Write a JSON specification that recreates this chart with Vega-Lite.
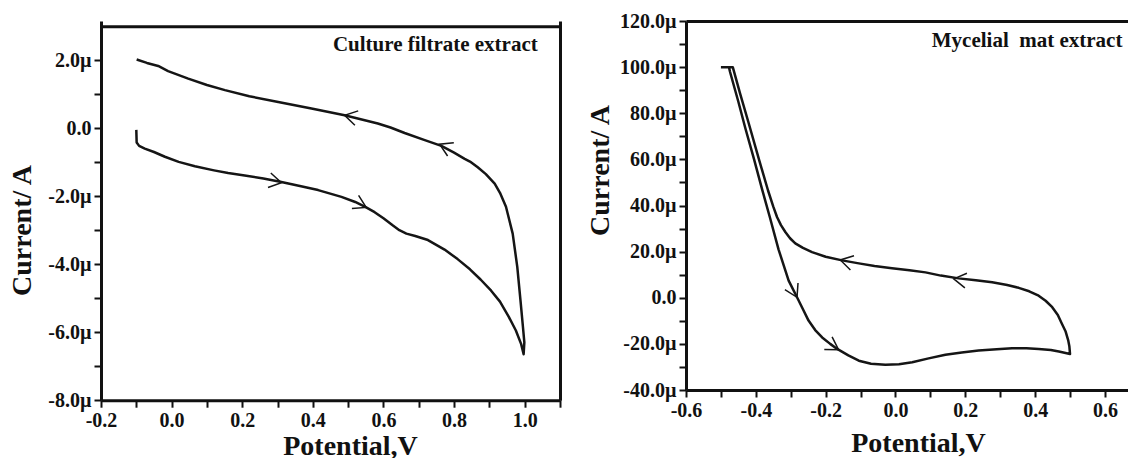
{
  "$schema": "https://vega.github.io/schema/vega-lite/v6.json",
  "padding": {"left": 8, "top": 11, "right": 0, "bottom": 0},
  "spacing": 25,
  "config": {
    "font": "Liberation Serif",
    "view": {"stroke": null},
    "axis": {
      "grid": false,
      "domainColor": "#111111",
      "domainWidth": 3,
      "tickColor": "#111111",
      "tickWidth": 2,
      "tickSize": 7,
      "labelFont": "Liberation Serif",
      "labelFontWeight": "bold",
      "labelFontSize": 20,
      "labelColor": "#111111",
      "labelPadding": 3,
      "titleFont": "Liberation Serif",
      "titleFontWeight": "bold",
      "titleFontSize": 28,
      "titleColor": "#111111",
      "labelFlush": false,
      "labelOverlap": false
    }
  },
  "datasets": {
    "cf": [
      {"i": 1, "V": -0.1, "I": -0.05},
      {"i": 2, "V": -0.099, "I": -0.42},
      {"i": 3, "V": -0.092, "I": -0.52},
      {"i": 4, "V": -0.076, "I": -0.6},
      {"i": 5, "V": -0.05, "I": -0.7},
      {"i": 6, "V": -0.019, "I": -0.84},
      {"i": 7, "V": 0.02, "I": -0.99},
      {"i": 8, "V": 0.066, "I": -1.12},
      {"i": 9, "V": 0.12, "I": -1.24},
      {"i": 10, "V": 0.16, "I": -1.32},
      {"i": 11, "V": 0.207, "I": -1.39},
      {"i": 12, "V": 0.26, "I": -1.48},
      {"i": 13, "V": 0.311, "I": -1.58},
      {"i": 14, "V": 0.36, "I": -1.69},
      {"i": 15, "V": 0.415, "I": -1.82},
      {"i": 16, "V": 0.481, "I": -2.02},
      {"i": 17, "V": 0.52, "I": -2.17},
      {"i": 18, "V": 0.551, "I": -2.33},
      {"i": 19, "V": 0.575, "I": -2.47},
      {"i": 20, "V": 0.6, "I": -2.65},
      {"i": 21, "V": 0.625, "I": -2.85},
      {"i": 22, "V": 0.645, "I": -3.0},
      {"i": 23, "V": 0.665, "I": -3.1},
      {"i": 24, "V": 0.69, "I": -3.17},
      {"i": 25, "V": 0.726, "I": -3.29},
      {"i": 26, "V": 0.773, "I": -3.57},
      {"i": 27, "V": 0.81, "I": -3.85},
      {"i": 28, "V": 0.845, "I": -4.15},
      {"i": 29, "V": 0.875, "I": -4.45},
      {"i": 30, "V": 0.905, "I": -4.78},
      {"i": 31, "V": 0.93, "I": -5.1},
      {"i": 32, "V": 0.955, "I": -5.55},
      {"i": 33, "V": 0.975, "I": -5.95},
      {"i": 34, "V": 0.99, "I": -6.35},
      {"i": 35, "V": 0.997, "I": -6.65},
      {"i": 36, "V": 0.999, "I": -6.3},
      {"i": 37, "V": 0.995, "I": -5.84},
      {"i": 38, "V": 0.988, "I": -5.06},
      {"i": 39, "V": 0.979, "I": -4.08},
      {"i": 40, "V": 0.966, "I": -3.1},
      {"i": 41, "V": 0.947, "I": -2.31},
      {"i": 42, "V": 0.93, "I": -1.9},
      {"i": 43, "V": 0.915, "I": -1.63},
      {"i": 44, "V": 0.89, "I": -1.35},
      {"i": 45, "V": 0.867, "I": -1.15},
      {"i": 46, "V": 0.845, "I": -0.98},
      {"i": 47, "V": 0.83, "I": -0.9},
      {"i": 48, "V": 0.8, "I": -0.72},
      {"i": 49, "V": 0.764, "I": -0.52},
      {"i": 50, "V": 0.717, "I": -0.35},
      {"i": 51, "V": 0.66, "I": -0.14},
      {"i": 52, "V": 0.62, "I": 0.02},
      {"i": 53, "V": 0.584, "I": 0.14},
      {"i": 54, "V": 0.49, "I": 0.38},
      {"i": 55, "V": 0.396, "I": 0.58},
      {"i": 56, "V": 0.302, "I": 0.77},
      {"i": 57, "V": 0.22, "I": 0.94},
      {"i": 58, "V": 0.151, "I": 1.12},
      {"i": 59, "V": 0.1, "I": 1.27},
      {"i": 60, "V": 0.047, "I": 1.46},
      {"i": 61, "V": -0.01, "I": 1.68},
      {"i": 62, "V": -0.038, "I": 1.83},
      {"i": 63, "V": -0.07, "I": 1.92},
      {"i": 64, "V": -0.099, "I": 2.02}
    ],
    "cfArrows": [
      {"V": 0.49, "I": 0.38, "ang": 13},
      {"V": 0.759, "I": -0.47, "ang": 25},
      {"V": 0.311, "I": -1.6, "ang": 191},
      {"V": 0.551, "I": -2.33, "ang": 207}
    ],
    "mm": [
      {"i": 1, "V": -0.5, "I": 100},
      {"i": 2, "V": -0.477, "I": 100},
      {"i": 3, "V": -0.474, "I": 98},
      {"i": 4, "V": -0.45, "I": 85},
      {"i": 5, "V": -0.43, "I": 73.5},
      {"i": 6, "V": -0.405, "I": 60},
      {"i": 7, "V": -0.382, "I": 47},
      {"i": 8, "V": -0.36, "I": 35},
      {"i": 9, "V": -0.335, "I": 21},
      {"i": 10, "V": -0.306, "I": 7.4},
      {"i": 11, "V": -0.282, "I": 0.2},
      {"i": 12, "V": -0.265, "I": -5},
      {"i": 13, "V": -0.249, "I": -9.9},
      {"i": 14, "V": -0.23, "I": -14},
      {"i": 15, "V": -0.21, "I": -17.2},
      {"i": 16, "V": -0.187, "I": -20},
      {"i": 17, "V": -0.167, "I": -22.2},
      {"i": 18, "V": -0.135, "I": -25},
      {"i": 19, "V": -0.105, "I": -27.3},
      {"i": 20, "V": -0.07, "I": -28.6},
      {"i": 21, "V": -0.029, "I": -29.0},
      {"i": 22, "V": 0.01, "I": -28.8},
      {"i": 23, "V": 0.048, "I": -28.0},
      {"i": 24, "V": 0.095, "I": -26.3},
      {"i": 25, "V": 0.143, "I": -24.7},
      {"i": 26, "V": 0.19, "I": -23.7},
      {"i": 27, "V": 0.238, "I": -22.9},
      {"i": 28, "V": 0.29, "I": -22.3},
      {"i": 29, "V": 0.334, "I": -21.9},
      {"i": 30, "V": 0.375, "I": -21.9},
      {"i": 31, "V": 0.41, "I": -22.2},
      {"i": 32, "V": 0.445, "I": -22.7},
      {"i": 33, "V": 0.468, "I": -23.3},
      {"i": 34, "V": 0.5, "I": -24.4},
      {"i": 35, "V": 0.498, "I": -21},
      {"i": 36, "V": 0.495, "I": -18.6},
      {"i": 37, "V": 0.487, "I": -14.5},
      {"i": 38, "V": 0.477, "I": -11.4},
      {"i": 39, "V": 0.465, "I": -7.5},
      {"i": 40, "V": 0.449, "I": -4.1},
      {"i": 41, "V": 0.43, "I": -1.3},
      {"i": 42, "V": 0.41, "I": 0.9},
      {"i": 43, "V": 0.383, "I": 2.8},
      {"i": 44, "V": 0.353, "I": 4.3},
      {"i": 45, "V": 0.32, "I": 5.5},
      {"i": 46, "V": 0.277, "I": 6.7},
      {"i": 47, "V": 0.23, "I": 7.6},
      {"i": 48, "V": 0.181, "I": 8.4},
      {"i": 49, "V": 0.13, "I": 9.6},
      {"i": 50, "V": 0.086, "I": 11.0},
      {"i": 51, "V": 0.04, "I": 11.9},
      {"i": 52, "V": -0.01, "I": 12.8},
      {"i": 53, "V": -0.06, "I": 13.8},
      {"i": 54, "V": -0.105, "I": 14.9},
      {"i": 55, "V": -0.153, "I": 16.2},
      {"i": 56, "V": -0.2, "I": 17.8},
      {"i": 57, "V": -0.239, "I": 19.8},
      {"i": 58, "V": -0.265, "I": 21.6},
      {"i": 59, "V": -0.287, "I": 23.6},
      {"i": 60, "V": -0.302, "I": 25.8},
      {"i": 61, "V": -0.315, "I": 28.4},
      {"i": 62, "V": -0.328, "I": 31.5},
      {"i": 63, "V": -0.339, "I": 34.9},
      {"i": 64, "V": -0.35, "I": 39.5},
      {"i": 65, "V": -0.365, "I": 46.5},
      {"i": 66, "V": -0.39, "I": 59.5},
      {"i": 67, "V": -0.421, "I": 76},
      {"i": 68, "V": -0.445, "I": 88.5},
      {"i": 69, "V": -0.466, "I": 100},
      {"i": 70, "V": -0.5, "I": 100}
    ],
    "mmArrows": [
      {"V": -0.158, "I": 16.4, "ang": 14},
      {"V": 0.167, "I": 8.2, "ang": 8},
      {"V": -0.282, "I": 0.2, "ang": 243},
      {"V": -0.163, "I": -22.5, "ang": 212}
    ],
    "cfLabel": [{"label": "Culture filtrate extract"}],
    "mmLabel": [{"label": "Mycelial\u00a0 mat extract"}]
  },
  "hconcat": [
    {
      "width": 459,
      "height": 379.2,
      "resolve": {"axis": {"x": "independent", "y": "independent"}},
      "layer": [
        {
          "data": {"name": "cf"},
          "mark": {"type": "line", "color": "#151515", "strokeWidth": 2.5, "strokeJoin": "round"},
          "encoding": {
            "x": {
              "field": "V",
              "type": "quantitative",
              "scale": {"domain": [-0.2, 1.1], "nice": false, "zero": false},
              "axis": {
                "title": "Potential,V",
                "values": [-0.2, -0.1, 0, 0.1, 0.2, 0.3, 0.4, 0.5, 0.6, 0.7, 0.8, 0.9, 1.0, 1.1],
                "labelExpr": "abs(round(datum.value * 10)) % 2 == 0 ? replace(format(datum.value, '.1f'), '−', '-') : ''",
                "titleBaseline": "alphabetic",
                "titleAlign": "center",
                "titleX": 249,
                "titleY": 54
              }
            },
            "y": {
              "field": "I",
              "type": "quantitative",
              "scale": {"domain": [-8, 3.153], "nice": false, "zero": false},
              "axis": {
                "title": "Current/ A",
                "values": [-8, -7, -6, -5, -4, -3, -2, -1, 0, 1, 2],
                "labelExpr": "abs(round(datum.value)) % 2 == 0 ? (datum.value == 0 ? '0.0' : replace(format(datum.value, '.1f'), '−', '-') + 'µ') : ''",
                "titleAngle": 270,
                "titleBaseline": "alphabetic",
                "titleAlign": "center",
                "titleX": -70.7,
                "titleY": 209
              }
            },
            "order": {"field": "i", "type": "quantitative"}
          }
        },
        {
          "data": {"name": "cfArrows"},
          "mark": {"type": "point", "shape": "M1,-0.6L0,0L1,0.6", "filled": false, "size": 600, "stroke": "#151515", "strokeWidth": 1.5, "opacity": 1},
          "encoding": {
            "x": {
              "field": "V",
              "type": "quantitative",
              "axis": {"orient": "top", "offset": -5.2, "domain": true, "ticks": false, "labels": false, "title": null}
            },
            "y": {
              "field": "I",
              "type": "quantitative",
              "axis": {"orient": "right", "domain": true, "ticks": false, "labels": false, "title": null}
            },
            "angle": {"field": "ang", "type": "quantitative", "scale": null}
          }
        },
        {
          "data": {"name": "cfLabel"},
          "mark": {"type": "text", "font": "Liberation Serif", "fontWeight": "bold", "fontSize": 21, "align": "right", "baseline": "alphabetic", "color": "#111111"},
          "encoding": {
            "x": {"datum": 1.037, "type": "quantitative", "axis": null},
            "y": {"datum": 2.26, "type": "quantitative", "axis": null},
            "text": {"field": "label", "type": "nominal"}
          }
        }
      ]
    },
    {
      "width": 442,
      "height": 369,
      "resolve": {"axis": {"x": "independent", "y": "independent"}},
      "layer": [
        {
          "data": {"name": "mm"},
          "mark": {"type": "line", "color": "#151515", "strokeWidth": 2.5, "strokeJoin": "round"},
          "encoding": {
            "x": {
              "field": "V",
              "type": "quantitative",
              "scale": {"domain": [-0.6, 0.666], "nice": false, "zero": false},
              "axis": {
                "title": "Potential,V",
                "values": [-0.6, -0.5, -0.4, -0.3, -0.2, -0.1, 0, 0.1, 0.2, 0.3, 0.4, 0.5, 0.6],
                "labelExpr": "abs(round(datum.value * 10)) % 2 == 0 ? replace(format(datum.value, '.1f'), '−', '-') : ''",
                "titleBaseline": "alphabetic",
                "titleAlign": "center",
                "titleX": 232,
                "titleY": 61
              }
            },
            "y": {
              "field": "I",
              "type": "quantitative",
              "scale": {"domain": [-40, 120], "nice": false, "zero": false},
              "axis": {
                "title": "Current/ A",
                "values": [-40, -30, -20, -10, 0, 10, 20, 30, 40, 50, 60, 70, 80, 90, 100, 110, 120],
                "labelExpr": "abs(round(datum.value)) % 20 == 0 ? (datum.value == 0 ? '0.0' : replace(format(datum.value, '.1f'), '−', '-') + 'µ') : ''",
                "titleAngle": 270,
                "titleBaseline": "alphabetic",
                "titleAlign": "center",
                "titleX": -77.7,
                "titleY": 149
              }
            },
            "order": {"field": "i", "type": "quantitative"}
          }
        },
        {
          "data": {"name": "mmArrows"},
          "mark": {"type": "point", "shape": "M1,-0.6L0,0L1,0.6", "filled": false, "size": 600, "stroke": "#151515", "strokeWidth": 1.5, "opacity": 1},
          "encoding": {
            "x": {
              "field": "V",
              "type": "quantitative",
              "axis": {"orient": "top", "domain": true, "ticks": false, "labels": false, "title": null}
            },
            "y": {"field": "I", "type": "quantitative", "axis": null},
            "angle": {"field": "ang", "type": "quantitative", "scale": null}
          }
        },
        {
          "data": {"name": "mmLabel"},
          "mark": {"type": "text", "font": "Liberation Serif", "fontWeight": "bold", "fontSize": 21, "align": "right", "baseline": "alphabetic", "color": "#111111"},
          "encoding": {
            "x": {"datum": 0.65, "type": "quantitative", "axis": null},
            "y": {"datum": 108.7, "type": "quantitative", "axis": null},
            "text": {"field": "label", "type": "nominal"}
          }
        }
      ]
    }
  ]
}
